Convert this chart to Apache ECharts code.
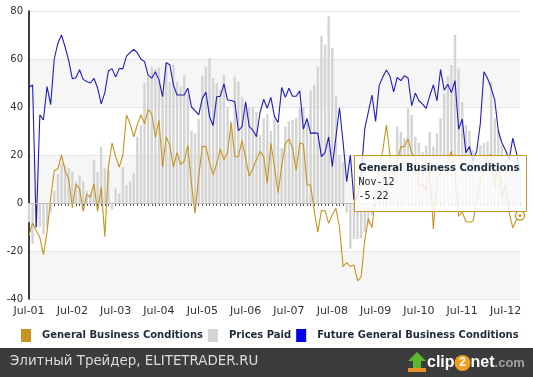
<!DOCTYPE html>
<html>
<head>
<meta charset="utf-8">
<script src="https://cdn.jsdelivr.net/npm/echarts@6/dist/echarts.min.js"></script>
<style>
  html, body { margin: 0; padding: 0; background: #fff; }
  #chart { width: 533px; height: 377px; }
</style>
</head>
<body>
<div id="chart"></div>
<script>
  // monthly survey, Jul-01 .. Nov-12
  var generalBusiness = [
    -13.5, -8.4, -11.5, -14.3, -21.5, -12, 2, 13.5, 14.3, 20, 13.5, 10,
    -2, 7.8, 6, -3.5, 3.5, 2.5, 8, -3.5, 6.5, -14, 15, 25,
    19.3, 15, 20, 36.7, 33, 27.6, 32.5, 36.8, 33, 39, 37, 27.4,
    34.4, 15, 27.6, 24, 15, 21, 16, 17.5, 24, 8, -4.3, 11,
    23.5, 23.5, 17, 11.7, 16.5, 22.5, 18, 21, 33.5, 19.3, 19.3, 26,
    18.6, 11.2, 14.4, 18, 21.5, 19.3, 8.3, 24.9, 15, 4.3, 15.5, 24.7,
    26.7, 22.8, 13.6, 25, 24.5, 7.5, 7.5, -3.2, -12.1, -3.1, -3.2, -8.5,
    -5, -2.2, -10, -26.5, -24.8, -26.5, -25.8, -32.4, -30.8, -15.4, -6.5, -10.3,
    3.5, 15, 22, 32.5, 20, 11.7, 17.2, 23.5, 23.5, 26.8, 20.7, 19,
    7, 8, 5, 15.5, -10.8, 10.5, 12, 15.4, 17.5, 21.5, 12, -5.5,
    -3.8, -7.7, -8, -7.5, 0.6, 9.5, 13.5, 19.5, 20.2, 6.6, 17.1, 2.3,
    7.4, -4, -10.4, -7, -5.22
  ];
  var pricesPaid = [
    -8, -17, -10, -10, -13, -10, -4, 5, 12, 16.5, 16, 14.5,
    13, 9, 11.5, 9, 5, 4, 18, 13, 23.5, 14.5, 14, -2.5,
    6, 4, 15, 7.5, 9, 12.5, 27.6, 32.5, 50, 52.6, 56.8, 55.8,
    56.4, 45, 58.6, 50.3, 57.5, 50.6, 48.5, 53.3, 45, 30, 29, 35,
    53, 56.8, 60.3, 52, 50, 47, 53.3, 40, 34, 52.6, 50.6, 44.3,
    40.8, 40, 40, 38, 28.3, 35.3, 37, 30, 34.6, 33, 22.8, 31.8,
    34, 34.6, 35.5, 39.4, 40, 34, 47, 49.2, 56.8, 69.5, 66, 77.8,
    64.7, 44.5, 20, 17, -4, -19, -15, -15, -14.7, -12, -9, -5,
    2, 10, 14, 17, 20, 19.3, 31.8, 29.7, 27, 39.4, 36.7, 27.6,
    25, 21.4, 24, 29.7, 23.5, 29, 35.3, 45.7, 53, 57.5, 70, 56,
    42, 32.5, 30, 22, 18, 24, 25, 25.6, 50.6, 35.3, 30, 24,
    18, 12, 15, 20, 12
  ];
  var futureBusiness = [
    48.2, 49.2, -10.2, 36.7, 34.6, 48.5, 41, 60, 66.6, 70, 65, 59.3,
    51.8, 52.2, 55.5, 51.5, 50.6, 50, 51.9, 47.9, 41.3, 46, 55, 56,
    52.5, 56, 56, 61.2, 62.7, 64, 62.6, 60, 58.9, 53.3, 52, 54.7,
    51.3, 44.3, 58.5, 57.6, 49.1, 45, 45, 45, 47.9, 40, 38.5, 36.7,
    43.6, 46.2, 36, 32.3, 44.3, 44.5, 49.6, 42.9, 42.7, 42.2, 30.1, 31.8,
    42.2, 31.8, 30.4, 27.6, 37.7, 43.2, 39.5, 44, 36, 33.5, 48.1, 44,
    47.8, 44.5, 44.5, 46.7, 30.8, 35.2, 29, 29.2, 29, 19.3, 21, 27.6,
    15.2, 27.3, 39.7, 25.3, 8.9, 20, 1.3, 2.5, 12, 31, 38, 45,
    34, 49, 52.5, 55.4, 52.8, 46.3, 52.3, 51, 53, 52.1, 40.5, 45.8,
    42.6, 41.2, 39.4, 44.6, 49.2, 42.6, 55.6, 47, 49.5, 46, 51, 30.7,
    35, 21, 23.5, 17.5, 21.5, 33, 54.7, 52, 48, 43, 30, 25,
    22, 18, 27, 21, 13
  ];

  var seriesNames = ['General Business Conditions', 'Prices Paid', 'Future General Business Conditions'];
  var monthNames = ['Jan', 'Feb', 'Mar', 'Apr', 'May', 'Jun', 'Jul', 'Aug', 'Sep', 'Oct', 'Nov', 'Dec'];

  // category labels like Jul-01
  var months = [];
  for (var k = 0; k < generalBusiness.length; k++) {
    var m = (6 + k) % 12;
    var yr = 1 + Math.floor((6 + k) / 12);
    months.push(monthNames[m] + '-' + (yr < 10 ? '0' + yr : yr));
  }

  var gold = '#c8941f';
  var blue = '#1c1cc4';
  var grey = '#d4d4d4';
  var font = 'DejaVu Sans';

  var chart = echarts.init(document.getElementById('chart'));
  var last = generalBusiness.length - 1;

  var option = {
    animation: false,
    backgroundColor: '#fff',
    grid: { left: 29, right: 13, top: 11, bottom: 78 },
    legend: {
      data: seriesNames,
      left: 21,
      top: 329,
      width: 520,
      padding: 0,
      icon: 'rect',
      itemWidth: 10,
      itemHeight: 13,
      itemGap: 5,
      selectedMode: false,
      textStyle: { fontFamily: font, fontWeight: 'bold', fontSize: 10, color: '#1d2b3a', padding: [0, 0, 0, 6] }
    },
    xAxis: {
      type: 'category',
      data: months,
      boundaryGap: false,
      axisLine: { lineStyle: { color: '#333', width: 1 } },
      axisTick: { show: true, interval: 0, length: 3, lineStyle: { color: '#555' } },
      axisLabel: { interval: 11, color: '#333', fontFamily: font, fontSize: 11, margin: 7 },
      splitLine: { show: false }
    },
    yAxis: {
      type: 'value',
      min: -40,
      max: 80,
      interval: 20,
      axisLine: { show: true, lineStyle: { color: '#000', width: 1.5 } },
      axisTick: { show: false },
      axisLabel: { color: '#333', fontFamily: font, fontSize: 10, margin: 6 },
      splitLine: { lineStyle: { color: '#e6e6e6' } },
      splitArea: { show: true, areaStyle: { color: ['#f6f6f6', '#ffffff'] } }
    },
    series: [
      {
        name: seriesNames[0],
        type: 'line',
        data: generalBusiness,
        symbol: 'none',
        z: 4,
        itemStyle: { color: gold },
        lineStyle: { color: gold, width: 1.1 },
        markPoint: {
          silent: true,
          label: { show: false },
          data: [
            { coord: [last, generalBusiness[last]], symbol: 'circle', symbolSize: 9,
              itemStyle: { color: '#fff', borderColor: gold, borderWidth: 1.3 } },
            { coord: [last, generalBusiness[last]], symbol: 'circle', symbolSize: 3,
              itemStyle: { color: gold } }
          ]
        }
      },
      {
        name: seriesNames[1],
        type: 'bar',
        data: pricesPaid,
        barWidth: 2.4,
        z: 2,
        itemStyle: { color: grey },
        markLine: {
          silent: true,
          symbol: 'none',
          label: { show: false },
          lineStyle: { color: '#bdbdbd', width: 1, type: 'solid' },
          data: [{ yAxis: 0 }]
        }
      },
      {
        name: seriesNames[2],
        type: 'line',
        data: futureBusiness,
        symbol: 'none',
        z: 3,
        itemStyle: { color: '#0000ee' },
        lineStyle: { color: blue, width: 1.1 }
      }
    ],
    graphic: [
      // footer band
      { id: 'footBg', type: 'rect', left: 0, top: 348, z: 10,
        shape: { width: 533, height: 29 }, style: { fill: '#3c3c3c' } },
      { id: 'footText', type: 'text', left: 10, top: 355, z: 11,
        style: { text: 'Элитный Трейдер, ELITETRADER.RU', fill: '#dcdcdc', font: '13.4px "DejaVu Sans"' } },
      { id: 'logoArrow', type: 'polygon', z: 11,
        shape: { points: [[417, 352], [426, 361], [421, 361], [421, 368], [413, 368], [413, 361], [408, 361]] },
        style: { fill: '#5cb82e' } },
      { id: 'logoBar', type: 'rect', z: 11, shape: { x: 408, y: 368, width: 18, height: 4 }, style: { fill: '#e8902a' } },
      { id: 'logoText', type: 'text', z: 11,
        style: {
          x: 427, y: 363, align: 'left', verticalAlign: 'middle',
          text: '{c|clip}{n|2}{c|net}{d|.com}',
          rich: {
            c: { fill: '#fff', font: 'bold 16px "Liberation Sans"' },
            n: { fill: '#fff', font: 'bold 12px "Liberation Sans"', backgroundColor: '#f0a020',
                 borderRadius: 8, width: 16, height: 16, align: 'center', verticalAlign: 'middle' },
            d: { fill: '#a0a0a0', font: 'bold 13px "Liberation Sans"' }
          }
        } }
    ]
  };

  chart.setOption(option);

  // hover box pinned on the last point, like the original screenshot
  var pt = chart.convertToPixel({ seriesIndex: 0 }, [last, generalBusiness[last]]);
  var boxW = 172, boxH = 56;
  var bx = Math.round(pt[0] + 6 - boxW) + 0.5;
  var by = Math.round(pt[1] - 61) + 0.5;
  chart.setOption({
    graphic: [
      { id: 'tipBox', type: 'rect', z: 20,
        shape: { x: bx, y: by, width: boxW, height: boxH },
        style: { fill: 'rgba(255,255,255,0.82)', stroke: '#c8962a', lineWidth: 1 } },
      { id: 'tipText', type: 'text', z: 21,
        style: {
          x: bx + 4, y: by + 6,
          text: '{t|' + seriesNames[0] + '}\n{v|' + months[last] + '}\n{v|' + generalBusiness[last] + '}',
          rich: {
            t: { fill: '#1d2b3a', font: 'bold 10px "DejaVu Sans"', lineHeight: 14 },
            v: { fill: '#222', font: '10px "DejaVu Sans Mono"', lineHeight: 14 }
          }
        } }
    ]
  });
</script>
</body>
</html>
